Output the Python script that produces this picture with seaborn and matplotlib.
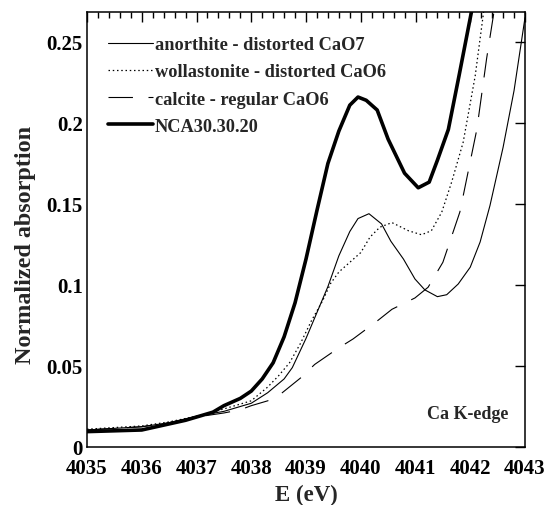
import matplotlib
matplotlib.use("Agg")
import matplotlib.pyplot as plt
from matplotlib.ticker import MultipleLocator, FixedLocator, FixedFormatter
import seaborn as sns

# Ca K-edge XANES pre-edge / edge region
nca_e = [4035.0, 4035.5, 4036.0, 4036.4, 4036.8, 4037.1, 4037.3, 4037.5, 4037.8,
         4038.0, 4038.2, 4038.4, 4038.6, 4038.8, 4039.0, 4039.2, 4039.4, 4039.6,
         4039.8, 4039.95, 4040.1, 4040.3, 4040.5, 4040.6, 4040.8, 4041.05, 4041.25,
         4041.4, 4041.6, 4041.8, 4042.03]
nca_v = [0.0095, 0.0100, 0.0105, 0.0135, 0.0165, 0.0195, 0.0215, 0.0255, 0.0300,
         0.0345, 0.0420, 0.0520, 0.0680, 0.0890, 0.1160, 0.1460, 0.1750, 0.1950,
         0.2110, 0.2160, 0.2140, 0.2080, 0.1900, 0.1830, 0.1690, 0.1600, 0.1635,
         0.1770, 0.1960, 0.2300, 0.2700]

anor_e = [4035.0, 4035.5, 4036.0, 4036.5, 4037.0, 4037.5, 4038.0, 4038.3, 4038.6,
          4038.75, 4039.0, 4039.2, 4039.4, 4039.6, 4039.8, 4039.95, 4040.15, 4040.38,
          4040.55, 4040.78, 4040.99, 4041.17, 4041.4, 4041.57, 4041.78, 4042.0,
          4042.18, 4042.36, 4042.6, 4042.8, 4043.0]
anor_v = [0.0105, 0.0115, 0.0125, 0.0150, 0.0190, 0.0220, 0.0270, 0.0335, 0.0420,
          0.0490, 0.0670, 0.0830, 0.0990, 0.1180, 0.1330, 0.1410, 0.1440, 0.1377,
          0.1270, 0.1160, 0.1037, 0.0970, 0.0928, 0.0940, 0.1006, 0.1110,
          0.1265, 0.1490, 0.1850, 0.2200, 0.2650]

woll_e = [4035.0, 4035.5, 4036.0, 4036.5, 4037.0, 4037.5, 4038.0, 4038.3, 4038.5,
          4038.7, 4038.9, 4039.1, 4039.3, 4039.45, 4039.6, 4039.8, 4040.0, 4040.17,
          4040.35, 4040.57, 4040.87, 4041.11, 4041.29, 4041.48, 4041.66, 4041.87,
          4042.09, 4042.25]
woll_v = [0.0110, 0.0120, 0.0130, 0.0155, 0.0190, 0.0235, 0.0285, 0.0370, 0.0440,
          0.0520, 0.0640, 0.0780, 0.0900, 0.1010, 0.1080, 0.1140, 0.1200, 0.1296,
          0.1357, 0.1385, 0.1335, 0.1310, 0.1335, 0.1450, 0.1635, 0.1880,
          0.2290, 0.2700]

calc_e = [4035.0, 4035.5, 4036.0, 4036.5, 4037.0, 4037.5, 4037.8, 4038.0, 4038.3,
          4038.5, 4038.9, 4039.16, 4039.59, 4039.86, 4040.29, 4040.57, 4040.99,
          4041.23, 4041.5, 4041.81, 4042.12, 4042.3, 4042.44]
calc_v = [0.0105, 0.0115, 0.0125, 0.0150, 0.0185, 0.0210, 0.0230, 0.0255, 0.0285,
          0.0317, 0.0426, 0.0510, 0.0610, 0.0667, 0.0775, 0.0850, 0.0920,
          0.0986, 0.1140, 0.1450, 0.1960, 0.2400, 0.2700]

labels = ["anorthite - distorted CaO7", "wollastonite - distorted CaO6",
          "calcite - regular CaO6", "NCA30.30.20"]
x_ticks = [4035, 4036, 4037, 4038, 4039, 4040, 4041, 4042, 4043]
y_ticks = [0, 0.05, 0.1, 0.15, 0.2, 0.25]
y_tick_labels = ["0", "0.05", "0.1", "0.15", "0.2", "0.25"]

sns.set_theme(style="white")
plt.rcParams["font.family"] = ["Liberation Serif", "DejaVu Serif"]
plt.rcParams["font.weight"] = "bold"
plt.rcParams["axes.labelweight"] = "bold"

fig = plt.figure(figsize=(5.46, 5.06), dpi=100)
ax = fig.add_axes([87 / 546, 1 - 448 / 506, 438 / 546, 435 / 506])

sns.lineplot(x=anor_e, y=anor_v, ax=ax, color="black", linewidth=0.8,
             label=labels[0])
sns.lineplot(x=woll_e, y=woll_v, ax=ax, color="black", linewidth=0.9,
             linestyle=(0, (1.2, 2.2)), label=labels[1])
sns.lineplot(x=calc_e, y=calc_v, ax=ax, color="black", linewidth=0.8,
             linestyle=(0, (22, 14)), label=labels[2])
sns.lineplot(x=nca_e, y=nca_v, ax=ax, color="black", linewidth=2.6,
             label=labels[3])

ax.set_xlim(4035, 4043)
ax.set_ylim(0, 0.2685)
ax.xaxis.set_major_locator(FixedLocator(x_ticks))
ax.xaxis.set_minor_locator(MultipleLocator(0.2))
ax.yaxis.set_major_locator(FixedLocator(y_ticks))
ax.yaxis.set_major_formatter(FixedFormatter(y_tick_labels))
ax.set_xticklabels([str(t) for t in x_ticks])

ax.tick_params(which="both", direction="in", top=True, right=True,
               colors="black", width=1.0)
ax.tick_params(which="major", length=7, labelsize=15)
ax.tick_params(axis="x", which="major", pad=8)
ax.tick_params(axis="y", which="major", pad=3)
ax.tick_params(which="minor", length=4)
for lab in ax.get_xticklabels() + ax.get_yticklabels():
    lab.set_fontweight("bold")

for sp in ax.spines.values():
    sp.set_color("black")
    sp.set_linewidth(1.1)

ax.set_xlabel("E (eV)", fontsize=16.5, fontweight="bold", labelpad=4.5)
ax.set_ylabel("Normalized absorption", fontsize=17.4, fontweight="bold")
ax.yaxis.set_label_coords(-0.1164, 0.467)

ax.text(0.961, 0.076, "Ca K-edge", transform=ax.transAxes, ha="right",
        va="center", fontsize=13, fontweight="bold")

leg = ax.legend(loc="upper left", bbox_to_anchor=(0.048, 0.944), frameon=False,
                fontsize=13.2, handlelength=2.45, handletextpad=0.12,
                labelspacing=0.55, borderpad=0, borderaxespad=0)
for t in leg.get_texts():
    t.set_fontweight("bold")

fig.savefig("out.png", dpi=100)
